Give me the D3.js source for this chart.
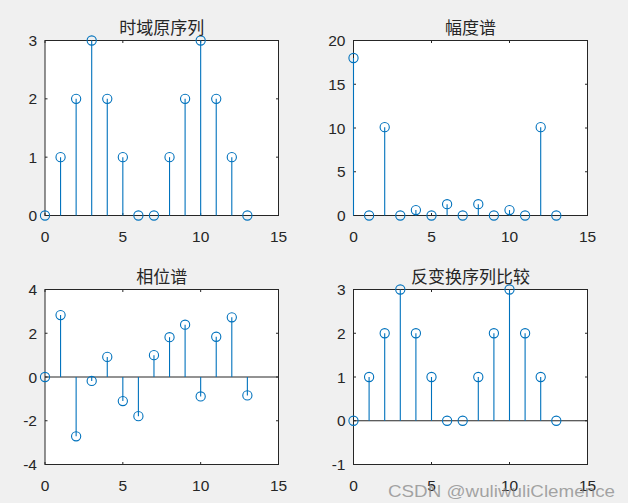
<!DOCTYPE html>
<html><head><meta charset="utf-8">
<script src="https://cdn.jsdelivr.net/npm/d3@7"></script>
<style>
html,body{margin:0;padding:0;background:#f0f0f0;}
svg{display:block;}
</style></head>
<body>
<script>
// ---- data ----
const n = [0,1,2,3,4,5,6,7,8,9,10,11,12,13];
const seqValues = [0,1,2,3,2,1,0,0,1,2,3,2,1,0];
const magValues = [18,0,10.1,0,0.62,0,1.29,0,1.29,0,0.62,0,10.1,0];
const phaseValues = [0,2.83,-2.71,-0.18,0.92,-1.10,-1.79,1.0,1.82,2.39,-0.89,1.84,2.73,-0.84];
const invValues = [0,1,2,3,2,1,0,0,1,2,3,2,1,0];
const titles = ["时域原序列","幅度谱","相位谱","反变换序列比较"];
const xTicks = [0,5,10,15];
const yTicks1 = [0,1,2,3];
const yTicks2 = [0,5,10,15,20];
const yTicks3 = [-4,-2,0,2,4];
const yTicks4 = [-1,0,1,2,3];

const W = 628, H = 503;
const svg = d3.select("body").append("svg").attr("width",W).attr("height",H);
svg.append("rect").attr("width",W).attr("height",H).attr("fill","#f0f0f0");

const panels = [
  {vals:seqValues, yd:[0,3], yt:yTicks1, box:[45,278.5,40.5,215.5], title:titles[0]},
  {vals:magValues, yd:[0,20], yt:yTicks2, box:[353.5,587.5,40.5,215.5], title:titles[1]},
  {vals:phaseValues, yd:[-4,4], yt:yTicks3, box:[45,278.5,289.5,464.5], title:titles[2]},
  {vals:invValues, yd:[-1,3], yt:yTicks4, box:[353.5,587.5,289.5,464.5], title:titles[3]},
];
const axisColor = "#262626";
const stemColor = "#0072BD";
const tickLen = 2.5;

panels.forEach(p => {
  const [x0,x1,y0,y1] = p.box;
  const x = d3.scaleLinear().domain([0,15]).range([x0,x1]);
  const y = d3.scaleLinear().domain(p.yd).range([y1,y0]);
  const g = svg.append("g");
  g.append("rect").attr("x",x0).attr("y",y0).attr("width",x1-x0).attr("height",y1-y0).attr("fill","#fff");

  // ticks inside, both sides
  const tg = g.append("g").attr("stroke",axisColor).attr("stroke-width",1);
  xTicks.forEach(t => {
    tg.append("line").attr("x1",x(t)).attr("x2",x(t)).attr("y1",y1).attr("y2",y1-tickLen);
    tg.append("line").attr("x1",x(t)).attr("x2",x(t)).attr("y1",y0).attr("y2",y0+tickLen);
  });
  p.yt.forEach(t => {
    tg.append("line").attr("x1",x0).attr("x2",x0+tickLen).attr("y1",y(t)).attr("y2",y(t));
    tg.append("line").attr("x1",x1).attr("x2",x1-tickLen).attr("y1",y(t)).attr("y2",y(t));
  });

  // baseline
  g.append("line").attr("x1",x0).attr("x2",x1).attr("y1",y(0)).attr("y2",y(0))
    .attr("stroke",axisColor).attr("stroke-width",1);

  // box
  g.append("rect").attr("x",x0).attr("y",y0).attr("width",x1-x0).attr("height",y1-y0)
    .attr("fill","none").attr("stroke",axisColor).attr("stroke-width",1);

  // tick labels
  const lg = g.append("g").attr("font-family","Arial, 'Liberation Sans', sans-serif")
    .attr("font-size","15.5px").attr("fill",axisColor);
  xTicks.forEach(t => {
    lg.append("text").attr("x",x(t)).attr("y",y1+26).attr("text-anchor","middle").text(t);
  });
  p.yt.forEach(t => {
    lg.append("text").attr("x",x0-8).attr("y",y(t)+5.5).attr("text-anchor","end").text(t);
  });

  // stems
  const data = n.map((k,i) => ({k, v:p.vals[i]}));
  g.append("g").selectAll("line").data(data).join("line")
    .attr("x1",d=>x(d.k)).attr("x2",d=>x(d.k)).attr("y1",y(0)).attr("y2",d=>y(d.v))
    .attr("stroke",stemColor).attr("stroke-width",1.1);
  g.append("g").selectAll("circle").data(data).join("circle")
    .attr("cx",d=>x(d.k)).attr("cy",d=>y(d.v)).attr("r",4.6)
    .attr("fill","none").attr("stroke",stemColor).attr("stroke-width",1.1);

  // title
  g.append("text").attr("x",(x0+x1)/2).attr("y",y0-14).attr("dominant-baseline","central")
    .attr("text-anchor","middle").attr("font-family","'Noto Sans CJK SC', sans-serif")
    .attr("font-size","17px").attr("fill",axisColor).text(p.title);
});

// watermark
svg.append("text").attr("x",388).attr("y",497).attr("font-family","Arial, 'Liberation Sans', sans-serif")
  .attr("font-size","17px").attr("fill","#888").attr("fill-opacity",0.75)
  .attr("textLength",227).attr("lengthAdjust","spacingAndGlyphs")
  .text("CSDN @wuliwuliClemence");
</script>
</body></html>
